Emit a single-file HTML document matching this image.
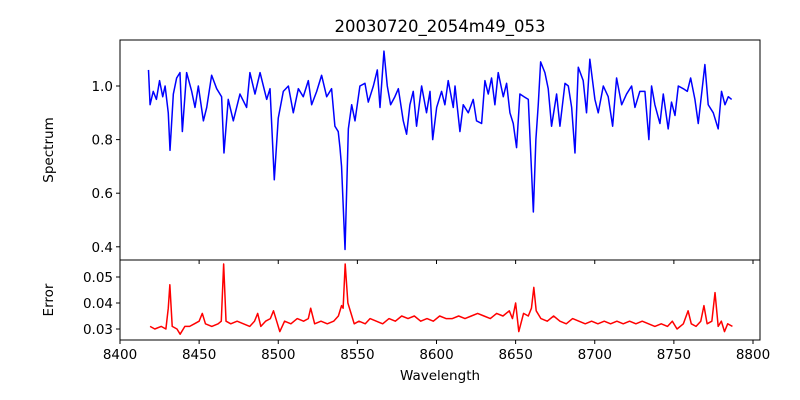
<!DOCTYPE html>
<html><head><meta charset="utf-8"><style>
html,body{margin:0;padding:0;background:#fff;}
svg{display:block;font-family:"DejaVu Sans","Liberation Sans",sans-serif;}
</style></head><body>
<svg id="chart" width="800" height="400" viewBox="0 0 800 400" xmlns="http://www.w3.org/2000/svg">
<rect x="0" y="0" width="800" height="400" fill="#fff"/>
<text x="440" y="32" font-size="16.5" text-anchor="middle">20030720_2054m49_053</text>
<text transform="translate(53,150) rotate(-90)" font-size="13.5" text-anchor="middle">Spectrum</text>
<text transform="translate(53,300) rotate(-90)" font-size="13.5" text-anchor="middle">Error</text>
<text x="440" y="380" font-size="13.5" text-anchor="middle">Wavelength</text>
<g id="g"></g>
</svg>
<script>
const specWave=[8418,8419,8421,8423,8425,8427,8428.5,8430.5,8431.6,8433.7,8435.8,8437.9,8439.4,8442.1,8445.3,8447.4,8449.5,8452.7,8454.8,8457.9,8461.1,8464.2,8465.7,8468.4,8471.6,8475.8,8480,8482.1,8485.3,8488.5,8492.7,8494.8,8497.5,8500,8503.2,8506.4,8509.5,8512.7,8515.8,8519,8521.1,8524.3,8527.4,8530.6,8533.7,8535.8,8537.9,8539,8540,8542.2,8544.3,8546.4,8548.5,8551.6,8554.8,8556.9,8560.1,8562.6,8564.3,8566.8,8568.9,8571,8573.7,8575.9,8579,8581.1,8583.2,8585.3,8587.4,8590.6,8593.7,8595.9,8597.6,8600.1,8603.2,8605.3,8607.4,8610.6,8611.7,8614.8,8616.9,8620.1,8623.2,8625.3,8628.5,8630.6,8632.7,8634.8,8636.9,8639,8642.2,8644.3,8646.4,8648.5,8650.6,8652.7,8655.3,8658,8661.2,8662.8,8664.3,8665.8,8668.5,8670.6,8672.7,8675.9,8678,8681.2,8683.3,8685.4,8687.5,8689.6,8692.7,8694.8,8696.9,8700.1,8702.2,8705.4,8708.5,8711.3,8713.8,8717,8720.1,8723.3,8725.4,8728.5,8731.7,8734.2,8735.9,8738,8741.2,8743.3,8746.4,8748.5,8750.7,8752.8,8755.9,8758.5,8760.6,8763.3,8765.4,8767.5,8769.6,8771.7,8774.9,8778,8780.1,8782.3,8784.4,8786.5];
const specFlux=[1.06,0.93,0.98,0.95,1.02,0.96,1.0,0.9,0.76,0.97,1.03,1.05,0.83,1.05,0.98,0.92,1.0,0.87,0.92,1.04,0.99,0.96,0.75,0.95,0.87,0.97,0.92,1.05,0.97,1.05,0.95,0.99,0.65,0.88,0.98,1.0,0.9,0.99,0.96,1.02,0.93,0.98,1.04,0.96,0.99,0.85,0.83,0.77,0.7,0.39,0.84,0.93,0.87,1.0,1.01,0.94,1.0,1.06,0.92,1.13,1.0,0.93,0.96,0.99,0.87,0.82,0.93,0.98,0.85,1.0,0.9,0.98,0.8,0.92,0.98,0.93,1.02,0.92,1.0,0.83,0.93,0.9,0.95,0.87,0.86,1.02,0.97,1.03,0.93,1.05,0.96,1.01,0.9,0.86,0.77,0.97,0.96,0.95,0.53,0.8,0.93,1.09,1.05,0.99,0.85,0.97,0.85,1.01,1.0,0.92,0.75,1.07,1.02,0.9,1.1,0.95,0.9,1.0,0.96,0.85,1.03,0.93,0.97,1.0,0.92,0.98,0.98,0.8,1.0,0.93,0.86,0.97,0.84,0.94,0.89,1.0,0.99,0.98,1.03,0.95,0.86,0.97,1.08,0.93,0.9,0.84,0.98,0.93,0.96,0.95];
const errWave=[8419,8422,8426,8429,8430.5,8431.5,8433,8436,8438,8441,8444,8447,8450,8452,8454,8458,8462,8464,8465.5,8467,8470,8474,8478,8482,8485,8487,8489,8492,8495,8497,8499,8501,8504,8508,8512,8516,8519,8520.5,8523,8527,8531,8535,8538,8540,8541,8542.3,8544,8546,8548,8551,8555,8558,8562,8566,8570,8574,8578,8582,8586,8590,8594,8598,8602,8606,8610,8614,8618,8622,8626,8630,8634,8638,8642,8646,8648,8650,8652,8655,8658,8660,8661.5,8663,8666,8670,8674,8678,8682,8686,8690,8694,8698,8702,8706,8710,8714,8718,8722,8726,8730,8734,8738,8742,8746,8749,8752,8756,8759,8761,8764,8767,8769,8771,8774,8776,8778,8780,8782,8784,8787];
const errVal=[0.031,0.030,0.031,0.030,0.038,0.047,0.031,0.030,0.028,0.031,0.031,0.032,0.033,0.036,0.032,0.031,0.032,0.033,0.055,0.033,0.032,0.033,0.032,0.031,0.033,0.036,0.031,0.033,0.034,0.037,0.033,0.029,0.033,0.032,0.034,0.033,0.034,0.038,0.032,0.033,0.032,0.033,0.035,0.039,0.038,0.055,0.040,0.036,0.032,0.033,0.032,0.034,0.033,0.032,0.034,0.033,0.035,0.034,0.035,0.033,0.034,0.033,0.035,0.034,0.034,0.035,0.034,0.035,0.036,0.035,0.034,0.036,0.035,0.037,0.034,0.040,0.029,0.036,0.035,0.038,0.046,0.037,0.034,0.033,0.035,0.033,0.032,0.034,0.033,0.032,0.033,0.032,0.033,0.032,0.033,0.032,0.033,0.032,0.033,0.032,0.031,0.032,0.031,0.033,0.030,0.032,0.037,0.032,0.031,0.033,0.039,0.032,0.033,0.044,0.031,0.033,0.029,0.032,0.031];
const xTicks=[8400,8450,8500,8550,8600,8650,8700,8750,8800];
const specTicks=[0.4,0.6,0.8,1.0];
const errTicks=[0.03,0.04,0.05];

const NS='http://www.w3.org/2000/svg';
const g=document.getElementById('g');
const L=120,R=760,T1=40,B1=260,B2=340;
const xs=w=>120+(w-8400)*1.5825;
const ys=v=>86+(1-v)*268;
const ye=v=>329-(v-0.03)*2600;
function mk(tag,attrs,parent){const e=document.createElementNS(NS,tag);for(const k in attrs)e.setAttribute(k,attrs[k]);(parent||g).appendChild(e);return e;}

const sp=mk('polyline',{points:specWave.map((w,i)=>xs(w).toFixed(2)+','+ys(specFlux[i]).toFixed(2)).join(' '),fill:'none',stroke:'#0000ff','stroke-width':1.5,'stroke-linejoin':'round'});


const er=mk('polyline',{points:errWave.map((w,i)=>xs(w).toFixed(2)+','+ye(errVal[i]).toFixed(2)).join(' '),fill:'none',stroke:'#ff0000','stroke-width':1.5,'stroke-linejoin':'round'});



const f1=mk('rect',{x:L,y:T1,width:R-L,height:B1-T1,fill:'none',stroke:'#000','stroke-width':1});


const f2=mk('rect',{x:L,y:B1,width:R-L,height:B2-B1,fill:'none',stroke:'#000','stroke-width':1});



xTicks.forEach(t=>{const x=xs(t);
 const a=mk('line',{x1:x,x2:x,y1:B2,y2:B2+4,stroke:'#000'});
 
 
 const b=mk('line',{x1:x,x2:x,y1:B1,y2:B1+4,stroke:'#000'});
 
 
 const tx=mk('text',{x:x,y:B2+19,'font-size':13.5,'text-anchor':'middle'});tx.textContent=t;
 
 
});
specTicks.forEach(t=>{const y=ys(t);
 const a=mk('line',{x1:L-4,x2:L,y1:y,y2:y,stroke:'#000'});
 
 
 const tx=mk('text',{x:L-7,y:y+5,'font-size':13.5,'text-anchor':'end'});tx.textContent=t.toFixed(1);
 
 
});
errTicks.forEach(t=>{const y=ye(t);
 const a=mk('line',{x1:L-4,x2:L,y1:y,y2:y,stroke:'#000'});
 
 
 const tx=mk('text',{x:L-7,y:y+5,'font-size':13.5,'text-anchor':'end'});tx.textContent=t.toFixed(2);
 
 
});
</script>
</body></html>
